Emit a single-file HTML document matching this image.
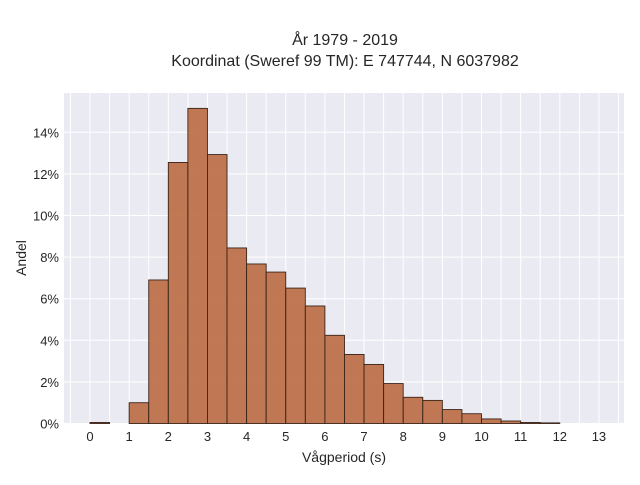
<!DOCTYPE html>
<html><head><meta charset="utf-8"><style>
body{margin:0;background:#fff;font-family:"Liberation Sans",sans-serif;}
svg text{font-family:"Liberation Sans",sans-serif;fill:#262626;}
</style></head><body>
<svg id="chart" width="640" height="480" viewBox="0 0 640 480">
<text x="345" y="45" font-size="16" text-anchor="middle">År 1979 - 2019</text>
<text x="345" y="66" font-size="16" text-anchor="middle">Koordinat (Sweref 99 TM): E 747744, N 6037982</text>
<rect x="64" y="93" width="560" height="330.5" fill="#eaeaf2"/>
<g id="grid"></g><g id="bars"></g><g id="axes"></g>
<text x="344" y="462" font-size="14" text-anchor="middle">Vågperiod (s)</text>
<text x="26" y="258" font-size="14" text-anchor="middle" transform="rotate(-90 26 258)">Andel</text>
</svg>
<script>
const binStarts=[0,0.5,1,1.5,2,2.5,3,3.5,4,4.5,5,5.5,6,6.5,7,7.5,8,8.5,9,9.5,10,10.5,11,11.5];
const shares=[0.05,0,1.0,6.9,12.55,15.15,12.93,8.44,7.67,7.28,6.51,5.65,4.24,3.32,2.84,1.92,1.26,1.11,0.67,0.47,0.22,0.12,0.05,0.03];
const xTicks=[0,1,2,3,4,5,6,7,8,9,10,11,12,13];
const yTicks=[0,2,4,6,8,10,12,14];
const binWidth=0.5;
const NS="http://www.w3.org/2000/svg";
function X(v){return 90+v*39.15;}
function Y(v){return 423.5-v*20.8;}
function mk(t,a,p){const e=document.createElementNS(NS,t);for(const k in a)e.setAttribute(k,a[k]);p.appendChild(e);return e;}
const grid=document.getElementById('grid'),bars=document.getElementById('bars'),axes=document.getElementById('axes');
for(let v=-0.5;v<=13.5;v+=0.5){const l=mk('line',{x1:X(v),x2:X(v),y1:93,y2:423.5,stroke:'#fff','stroke-width':1},grid);

}
yTicks.forEach(v=>{const l=mk('line',{x1:64,x2:624,y1:Y(v),y2:Y(v),stroke:'#fff','stroke-width':1},grid);


const t=mk('text',{x:59,y:Y(v)+5,'font-size':13,'text-anchor':'end'},axes);t.textContent=v+'%';

});
xTicks.forEach(v=>{const t=mk('text',{x:X(v),y:441,'font-size':13,'text-anchor':'middle'},axes);t.textContent=v;

});
binStarts.forEach((s,i)=>{const v=shares[i];if(v<=0)return;
const r=mk('rect',{x:X(s),y:Y(v),width:X(s+binWidth)-X(s),height:Y(0)-Y(v),fill:'rgba(184,104,60,0.88)',stroke:'#3a2418','stroke-width':0.9},bars);

});
</script>
</body></html>
